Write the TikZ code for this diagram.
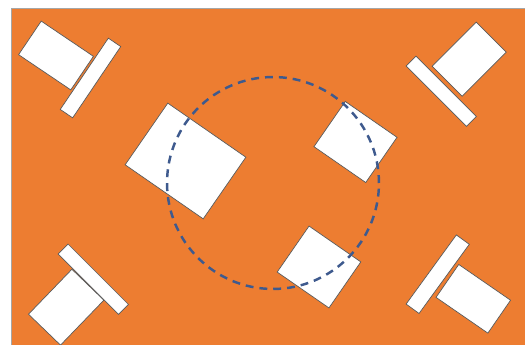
\documentclass[tikz,border=0pt]{standalone}
\usepackage{xcolor}
\usepackage{tikz}
\definecolor{floor}{HTML}{ED7D31}
\definecolor{ringblue}{HTML}{3E5A8E}

\begin{document}
\begin{tikzpicture}[x=0.02cm, y=0.02cm,
        board/.style={draw=black!65, fill=white, line width=0.4pt, inner sep=0pt}]
        \useasboundingbox (0,0) rectangle (525,345);
        \fill[white] (0,0) rectangle (525,345);
        \filldraw[fill=floor, draw=black!35, line width=0.3pt] (11,-1) rectangle (526,337);

        % middle tables
        \node[board, minimum width=1.9cm, minimum height=1.5cm, rotate=-34.7] (bigsq) at (185.5,184) {};
        \node[board, minimum width=1.26cm, minimum height=1.1cm, rotate=-34.7] (upsq) at (355.5,203) {};
        \node[board, minimum width=1.26cm, minimum height=1.12cm, rotate=-34.7] (lowsq) at (319,78) {};

        % corner desks
        \node[board, minimum width=1.26cm, minimum height=0.81cm, rotate=-34] (tlpad) at (56,289.5) {};
        \node[board, minimum width=0.3cm, minimum height=1.72cm, rotate=-34] (tlbar) at (90.5,267) {};
        \node[board, minimum width=1.25cm, minimum height=0.85cm, rotate=45] (trpad) at (469.2,285.8) {};
        \node[board, minimum width=1.71cm, minimum height=0.28cm, rotate=-45] (trbar) at (441.2,253.7) {};
        \node[board, minimum width=1.25cm, minimum height=0.89cm, rotate=46] (blpad) at (66.2,37.8) {};
        \node[board, minimum width=1.71cm, minimum height=0.28cm, rotate=-45] (blbar) at (93.3,65.8) {};
        \node[board, minimum width=0.32cm, minimum height=1.71cm, rotate=-36] (brbar) at (437.7,70.8) {};
        \node[board, minimum width=1.26cm, minimum height=0.8cm, rotate=-34.6] (brpad) at (473.3,46.2) {};

        \node[circle, draw=ringblue, line width=1.4pt, dash pattern=on 4.5pt off 3.4pt,
              minimum size=4.24cm, inner sep=0pt] (ring) at (273,162) {};
\end{tikzpicture}
\end{document}
